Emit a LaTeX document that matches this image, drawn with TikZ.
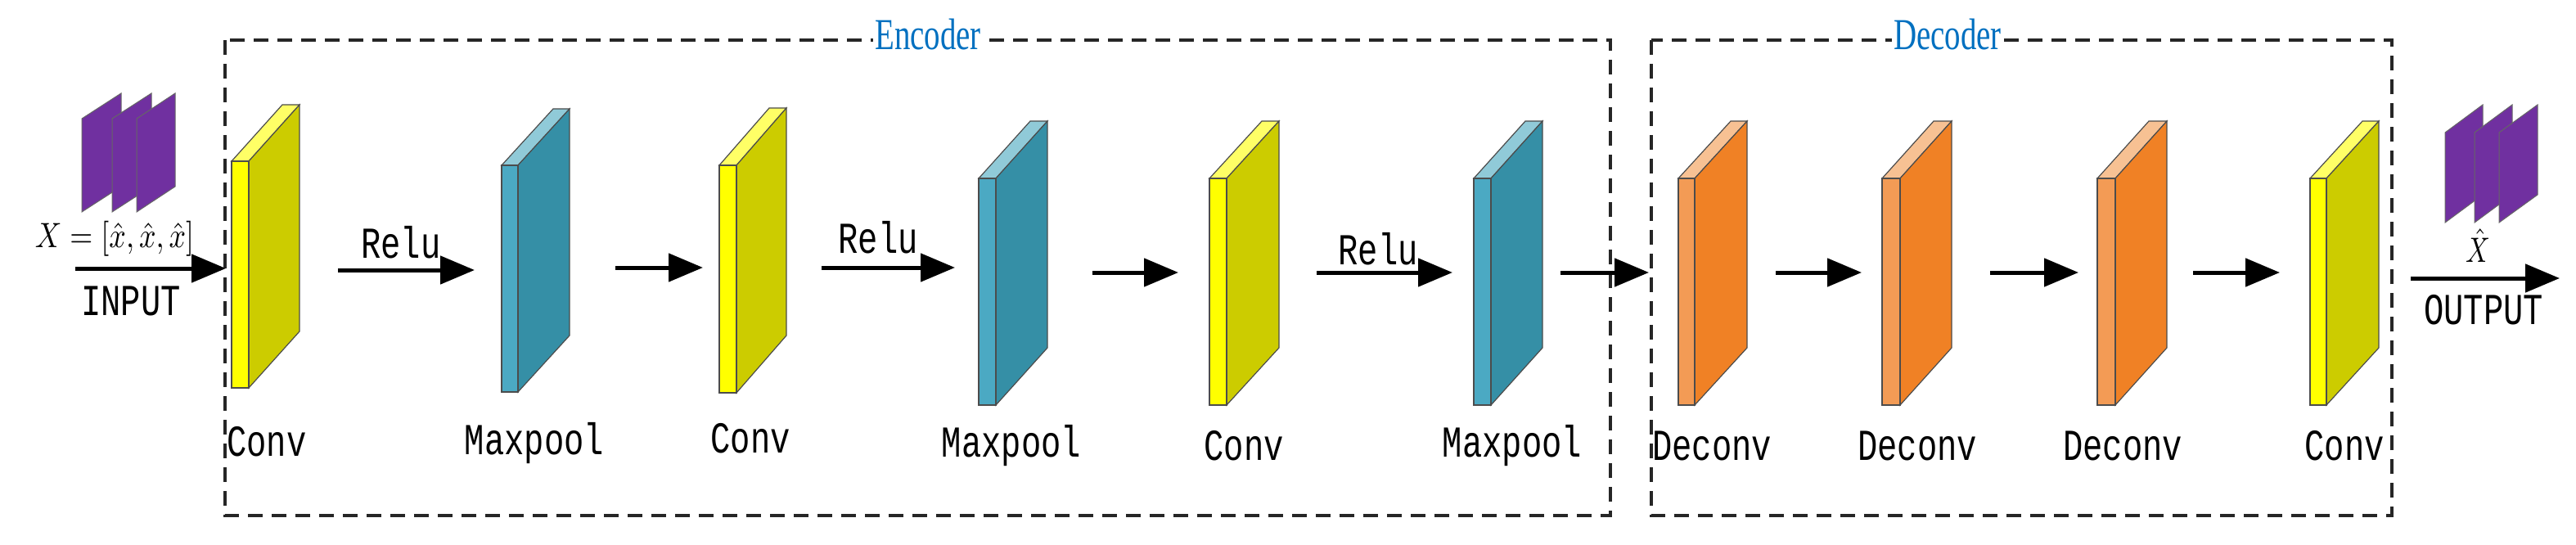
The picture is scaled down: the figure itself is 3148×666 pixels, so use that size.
\documentclass[tikz,border=0pt]{standalone}
\usepackage{fontspec}
\setmainfont{Liberation Serif}
\newfontfamily\lblfont{Liberation Mono}
\usetikzlibrary{arrows.meta}
\definecolor{yF}{HTML}{FFFF00}\definecolor{yS}{HTML}{CCCC00}\definecolor{yT}{HTML}{FFFF66}
\definecolor{tF}{HTML}{4BA9C3}\definecolor{tS}{HTML}{358FA6}\definecolor{tT}{HTML}{90CAD8}
\definecolor{oF}{HTML}{F39B55}\definecolor{oS}{HTML}{F08125}\definecolor{oT}{HTML}{F7C193}
\definecolor{pur}{HTML}{7030A0}\definecolor{ttl}{HTML}{0070C0}
\newcommand{\lbl}[1]{\scalebox{0.75}[1]{\fontsize{54}{54}\lblfont #1}}
% \blk{front}{x}{ytop}{ybot}{w}{dx}{dy}{side}{top}
\newcommand{\blk}[9]{%
  \fill[#9,draw=black!70,line width=1.2pt] (#2,#3) -- ++(#6,#7) -- ++(#5,0) -- (#2+#5,#3) -- cycle;
  \fill[#8,draw=black!70,line width=1.2pt] (#2+#5,#3) -- ++(#6,#7) -- (#2+#5+#6,#4+#7) -- (#2+#5,#4) -- cycle;
  \fill[#1,draw=black!70,line width=1.2pt] (#2,#3) rectangle (#2+#5,#4);
}
\newcommand{\sheet}[5]{% x ytopleft ybotleft w dy
  \fill[pur,draw=black!60,line width=1pt] (#1,#2) -- ++(#4,#5) -- (#1+#4,#3+#5) -- (#1,#3) -- cycle;}
\tikzset{arr/.style={line width=5pt,-{Triangle[length=42pt,width=34pt]}},
  box/.style={line width=3.5pt,black!85,dash pattern=on 18pt off 11pt},
  ttlnode/.style={fill=white,inner sep=2pt,text=ttl},
  lab/.style={inner sep=0pt}}
\begin{document}
\begin{tikzpicture}[x=1pt,y=-1pt]
\useasboundingbox (0,0) rectangle (3148,666);
% boxes
\draw[box] (275,49) rectangle (1968,630);
\draw[box] (2018,49) rectangle (2923,630);
\node[ttlnode] (enc) at (1134,42) {\scalebox{0.72}[1]{\fontsize{54}{54}\selectfont Encoder}};
\node[ttlnode] (dec) at (2380,42) {\scalebox{0.72}[1]{\fontsize{54}{54}\selectfont Decoder}};
% input sheets
\sheet{100}{145}{259}{48}{-31}
\sheet{137}{145}{259}{48}{-31}
\sheet{167}{145}{259}{47}{-31}
% output sheets
\sheet{2988}{162}{272}{46}{-34}
\sheet{3024}{162}{272}{46}{-34}
\sheet{3054}{162}{272}{47}{-34}
% blocks
\blk{yF}{283}{197}{474}{21}{62}{-69}{yS}{yT}
\blk{tF}{613}{202}{479}{20}{63}{-69}{tS}{tT}
\blk{yF}{879}{202}{480}{21}{61}{-70}{yS}{yT}
\blk{tF}{1196}{218}{495}{21}{63}{-70}{tS}{tT}
\blk{yF}{1478}{218}{495}{21}{64}{-70}{yS}{yT}
\blk{tF}{1801}{218}{495}{21}{63}{-70}{tS}{tT}
\blk{oF}{2051}{218}{495}{20}{64}{-70}{oS}{oT}
\blk{oF}{2300}{218}{495}{22}{63}{-70}{oS}{oT}
\blk{oF}{2563}{218}{495}{22}{63}{-70}{oS}{oT}
\blk{yF}{2823}{218}{495}{20}{64}{-70}{yS}{yT}
% coordinates for arrows
\coordinate (a0s) at (92,328); \coordinate (a0e) at (276,328);
\coordinate (a1s) at (413,330); \coordinate (a1e) at (580,330);
\coordinate (a2s) at (752,327); \coordinate (a2e) at (859,327);
\coordinate (a3s) at (1004,327); \coordinate (a3e) at (1167,327);
\coordinate (a4s) at (1335,333); \coordinate (a4e) at (1440,333);
\coordinate (a5s) at (1609,333); \coordinate (a5e) at (1775,333);
\coordinate (a6s) at (1907,333); \coordinate (a6e) at (2015,333);
\coordinate (a7s) at (2170,333); \coordinate (a7e) at (2275,333);
\coordinate (a8s) at (2432,333); \coordinate (a8e) at (2540,333);
\coordinate (a9s) at (2680,333); \coordinate (a9e) at (2786,333);
\coordinate (a10s) at (2946,340); \coordinate (a10e) at (3128,340);
\foreach \i in {0,...,10} \draw[arr] (a\i s) -- (a\i e);
% texts
\node[lab] (xin) at (140,292) {\scalebox{3.6}[4.3]{$X=[\hat{x},\hat{x},\hat{x}]$}};
\node[lab] (inp) at (160,368) {\lbl{INPUT}};
\node[lab] (r1) at (490,296) {\lbl{Relu}};
\node[lab] (r2) at (1073,290) {\lbl{Relu}};
\node[lab] (r3) at (1684,304) {\lbl{Relu}};
\node[lab] (xout) at (3028,300) {\scalebox{3.3}[4.3]{$\hat{X}$}};
\node[lab] (outp) at (3035,379) {\lbl{OUTPUT}};
\node[lab] (l1) at (326,540) {\lbl{Conv}};
\node[lab] (l2) at (653,542) {\lbl{Maxpool}};
\node[lab] (l3) at (917,536) {\lbl{Conv}};
\node[lab] (l4) at (1236,545) {\lbl{Maxpool}};
\node[lab] (l5) at (1520,545) {\lbl{Conv}};
\node[lab] (l6) at (1848,545) {\lbl{Maxpool}};
\node[lab] (l7) at (2092,545) {\lbl{Deconv}};
\node[lab] (l8) at (2343,545) {\lbl{Deconv}};
\node[lab] (l9) at (2594,545) {\lbl{Deconv}};
\node[lab] (l10) at (2865,545) {\lbl{Conv}};
\end{tikzpicture}
\end{document}
